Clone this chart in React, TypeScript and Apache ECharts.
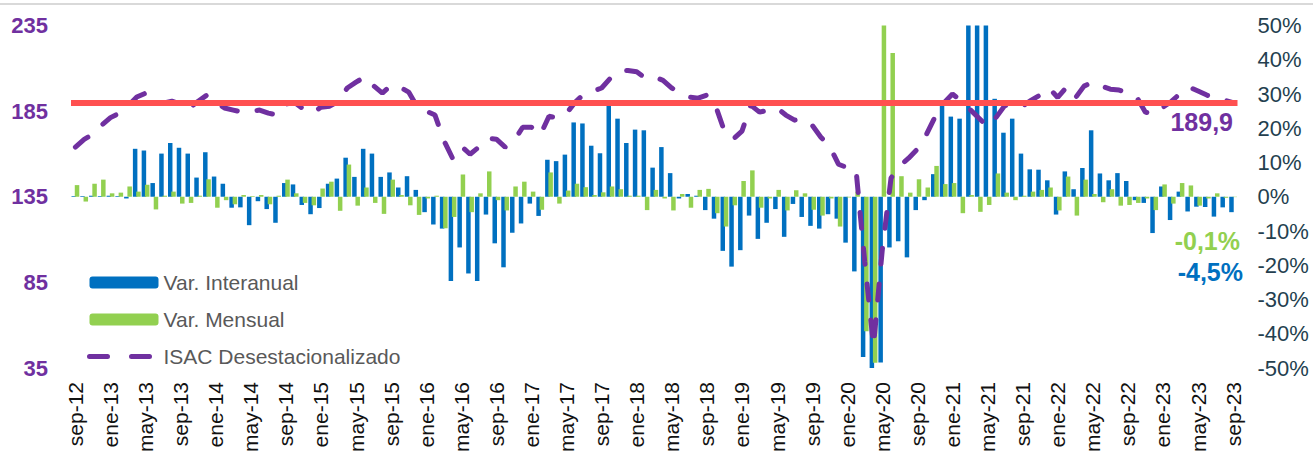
import React, { useEffect, useRef } from "react";
import * as echarts from "echarts";

const MONTHS = ["ene", "feb", "mar", "abr", "may", "jun", "jul", "ago", "sep", "oct", "nov", "dic"];
const START_MONTH = 8; // sep
const START_YEAR = 12;
const N_MONTHS = 133; // sep-12 .. sep-23

const categories: string[] = [];
for (let k = 0; k < N_MONTHS; k++) {
  const m = (START_MONTH + k) % 12;
  const y = START_YEAR + Math.floor((START_MONTH + k) / 12);
  categories.push(`${MONTHS[m]}-${y}`);
}

// Var. Interanual (%), right axis
const interanual = [
  0.2, 0.2, 0.3, 0.2, 0.3, 0.2, -0.5, 14, 13.5, 4,
  12.6, 15.7, 14.3, 12.6, 5.6, 13, 5.9, 3.8, -3.2, -3.1,
  -8.3, -1.3, -3.6, -7.6, 4, 3.6, -2.4, -5.1, -3.3, 3.8,
  5.3, 11.4, 5.8, 14, 12.6, 5.8, 7.1, 2.7, 6, 2,
  -4.5, -8.1, -9.3, -24.6, -14.8, -22.4, -24.6, -5.2, -13.6, -20.6,
  -10.5, -7.8, -2, -5.6, 10.8, 10.4, 12.3, 21.7, 21.4, 14.9,
  12.7, 26.5, 22.8, 15.7, 19.6, 19.4, 8.5, 14.5, 6.9, -0.5,
  0.8, 0.3, -3.9, -6.4, -15.8, -20.4, -15.6, -5.5, -12.3, -7.6,
  -3.6, -11.7, -2.1, -5.9, -8.5, -9.3, -5.1, -6.4, -13.4, -21.8,
  -46.8, -60, -48.4, -14.8, -13, -17.7, -3.9, -1, 6.6, 26.7,
  23.4, 22.8, 60, 60, 60, 28.6, 18.7, 22.8, 12.6, 8,
  7.9, 4.8, -5.2, 7.4, 2.2, 8.4, 19.4, 6.8, 4.8, 6.9,
  4.6, -1, -1.8, -10.6, 3, -6.8, 1.5, -4.3, -2.9, -3,
  -5.8, -3.1, -4.5,
];

// Var. Mensual (%), right axis
const mensual = [
  3.4, -1.4, 3.8, 5, 1, 1.2, 3, 1.5, 3.5, -3.7,
  0.3, 1.5, -2, -1.8, 0.3, 5.1, -3.2, -1, -2.2, 0.5,
  0.2, 0.5, -2.2, 0.3, 5, 1, -1.8, -2.5, 2.4, 4.4,
  -4.1, 9.4, -2.6, 2.7, -1.8, -5, 5, 0.5, -2.5, -5.3,
  -0.5, 0.3, -9.2, -5.9, 6.5, -4.5, 1, 7.4, -1, -4,
  3, 4.4, 1.5, -3.8, 7.1, -2, 1.8, 3.8, 2.8, 0.5,
  1.3, 3, 2.2, 0.3, 0.3, -3.9, 2, -0.5, -4, 0.8,
  -3.2, 2, 2.3, -4.8, -8.7, -2.5, 4.6, 7.7, -3.2, -0.5,
  2, -4, 1.9, 1, -3.8, -5.5, -0.5, -8.7, -0.2, 1.5,
  -39.3, -48.5, 60, 42, 6, 1.2, 5.1, 2.7, 9, 3.7,
  4, -4.8, 0.5, -4.4, -2.4, 6.8, 1.2, -1, 0.3, 1.5,
  2, 2.7, -4, 5.9, -5.5, 5, 0.8, -1.6, 2.2, -2.6,
  -2.4, -1.8, -0.5, -3.9, 3.6, -2, 4, 3.3, -2.6, -0.5,
  1, -0.3, -0.1,
];

// ISAC Desestacionalizado, left axis
const isac = [
  164, 168.5, 171.5, 176.8, 181.2, 183.8, 188, 193.2, 195.5, 189.7,
  189.7, 190.8, 189, 186.8, 190.8, 194.4, 190.3, 186.8, 185.6, 184.4,
  185, 185.6, 183.8, 182.7, 189.1, 190, 186.2, 183.8, 187.3, 187.9,
  190.8, 198.5, 201.9, 205, 199.8, 195.5, 200.2, 199, 196.1, 187.3,
  185, 182.7, 168, 157.5, 164.5, 159.8, 164, 169.2, 168.6, 164,
  167.5, 175.6, 175.6, 171, 182, 180.9, 183.8, 190.3, 195, 196.7,
  198.5, 204.3, 208.4, 208.7, 208, 204.3, 205, 203, 198.5, 195.5,
  193.2, 192.6, 194.4, 188, 173.3, 168.6, 173.3, 188.5, 184.4, 185.6,
  186.8, 182.7, 179.7, 180.3, 176.8, 169.8, 164.5, 154, 152, 151,
  97, 48, 104, 146, 153, 157.5, 162.8, 171, 181.5, 189.7,
  195, 191, 186, 181, 176, 181.5, 188.5, 186.8, 188, 191.4,
  194.4, 198.5, 193, 199, 192.6, 199.6, 202, 199.6, 197.8, 197.3,
  195.5, 193.2, 184.4, 183.2, 187.3, 190.8, 195.5, 199, 196.7, 194.4,
  192.6, 191.4, 189.9,
];

const LEFT_TICKS = { min: 35, max: 235, interval: 50 };
const RIGHT_TICKS = { min: -50, max: 50, interval: 10 };
const REF_VALUE = 189.9;
const REF_LABEL = "189,9";
const LAST_MENSUAL_LABEL = "-0,1%";
const LAST_INTERANUAL_LABEL = "-4,5%";

const BLUE = "#0070C0";
const GREEN = "#92D050";
const PURPLE = "#7030A0";
const RED = "#FF5050";
const FONT = "Liberation Sans, Arial, sans-serif";

export default function App() {
  const ref = useRef<HTMLDivElement>(null);
  useEffect(() => {
    if (!ref.current) return;
    const chart = echarts.init(ref.current, undefined, { renderer: "svg" });
    chart.setOption({
      animation: false,
      textStyle: { fontFamily: FONT },
      grid: { left: 71, right: 75.5, top: 25.5, bottom: 88, containLabel: false, outerBoundsMode: "none" },
      legend: {
        orient: "vertical",
        left: 82,
        top: 267,
        itemWidth: 69,
        itemHeight: 12,
        itemGap: 16,
        data: [
          "Var. Interanual",
          "Var. Mensual",
          {
            name: "ISAC Desestacionalizado",
            itemStyle: { opacity: 0 },
            lineStyle: { color: PURPLE, width: 5, type: [18, 24], cap: "round" },
          },
        ],
        textStyle: { color: "#595959", fontSize: 21, fontFamily: FONT },
      },
      xAxis: {
        type: "category",
        data: categories,
        boundaryGap: true,
        axisLine: { show: false },
        axisTick: { show: false },
        axisLabel: { interval: 3, rotate: 90, fontSize: 21, color: "#111111", margin: 14, fontFamily: FONT },
      },
      yAxis: [
        {
          type: "value",
          position: "left",
          min: LEFT_TICKS.min,
          max: LEFT_TICKS.max,
          interval: LEFT_TICKS.interval,
          splitLine: { show: false },
          axisLine: { show: false },
          axisTick: { show: false },
          axisLabel: { color: PURPLE, fontWeight: "bold", fontSize: 22, margin: 23, fontFamily: FONT },
        },
        {
          type: "value",
          position: "right",
          min: RIGHT_TICKS.min,
          max: RIGHT_TICKS.max,
          interval: RIGHT_TICKS.interval,
          splitLine: { show: false },
          axisLine: { show: false },
          axisTick: { show: false },
          axisLabel: { formatter: "{value}%", color: "#243F4F", fontSize: 22, margin: 20, fontFamily: FONT },
        },
      ],
      series: [
        {
          name: "Var. Interanual",
          type: "bar",
          yAxisIndex: 1,
          data: interanual,
          barWidth: 4.5,
          barGap: "-27%",
          itemStyle: { color: BLUE },
          z: 2,
        },
        {
          name: "Var. Mensual",
          type: "bar",
          yAxisIndex: 1,
          data: mensual,
          barWidth: 4.5,
          itemStyle: { color: GREEN },
          z: 2,
        },
        {
          name: "ref",
          type: "line",
          yAxisIndex: 0,
          data: [],
          z: 3,
          markLine: {
            silent: true,
            symbol: ["none", "none"],
            label: { show: false },
            lineStyle: { color: RED, width: 6, type: "solid" },
            data: [{ yAxis: REF_VALUE }],
          },
        },
        {
          name: "ISAC Desestacionalizado",
          type: "line",
          yAxisIndex: 0,
          data: isac,
          showSymbol: false,
          symbol: "none",
          z: 4,
          itemStyle: { color: PURPLE },
          lineStyle: { color: PURPLE, width: 5, type: [16, 20], cap: "round" },
        },
      ],
      graphic: [
        { type: "rect", shape: { x: 0, y: 3, width: 1313, height: 2 }, style: { fill: "#D9D9D9" } },
        {
          type: "text",
          x: 1233,
          y: 122,
          style: { text: REF_LABEL, fill: PURPLE, font: `bold 25px ${FONT}`, align: "right", verticalAlign: "middle" },
        },
        {
          type: "text",
          x: 1240,
          y: 241,
          style: { text: LAST_MENSUAL_LABEL, fill: GREEN, font: `bold 25px ${FONT}`, align: "right", verticalAlign: "middle" },
        },
        {
          type: "text",
          x: 1243,
          y: 272,
          style: { text: LAST_INTERANUAL_LABEL, fill: BLUE, font: `bold 25px ${FONT}`, align: "right", verticalAlign: "middle" },
        },
      ],
    });
    return () => chart.dispose();
  }, []);
  return (
    <div
      ref={ref}
      style={{ position: "absolute", left: 0, top: 0, width: 1313, height: 456, background: "#fff" }}
    />
  );
}
